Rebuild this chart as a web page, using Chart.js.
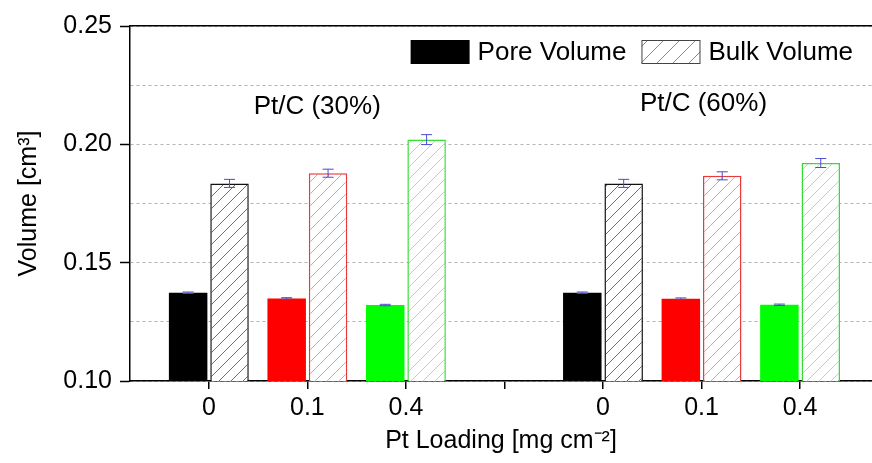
<!DOCTYPE html>
<html>
<head>
<meta charset="utf-8">
<script src="https://cdn.jsdelivr.net/npm/chart.js@4.4.0/dist/chart.umd.min.js"></script>
<style>
    html, body { margin: 0; padding: 0; background: #fff; }
    #wrap { width: 872px; height: 463px; }
</style>
</head>
<body>
<div id="wrap"><canvas id="volChart"></canvas></div>
<script>
// ── Data ─────────────────────────────────────────────────────
const loadings   = ['0', '0.1', '0.4', '', '0', '0.1', '0.4'];
const poreVolume = [0.1373, 0.1349, 0.1321, null, 0.1373, 0.1348, 0.1322];
const poreError  = [0.0003, 0.0003, 0.0003, null, 0.0003, 0.0003, 0.0003];
const bulkVolume = [0.1835, 0.1878, 0.2020, null, 0.1835, 0.1867, 0.1921];
const bulkError  = [0.0017, 0.0017, 0.0021, null, 0.0017, 0.0017, 0.0019];
const yTicks     = [0.10, 0.15, 0.20, 0.25];
const groupNames = ['Pt/C (30%)', 'Pt/C (60%)'];

// ── Styles ───────────────────────────────────────────────────
const FONT       = '"Liberation Sans", Arial, sans-serif';
const FILL       = ['#000000', '#ff0000', '#00ff00', '#000000', '#000000', '#ff0000', '#00ff00'];
const EDGE       = ['#111111', '#e83a3a', '#33dd33', '#111111', '#111111', '#e83a3a', '#33dd33'];
const HATCH      = ['#6e6e6e', '#f29a9a', '#a0e6a0', '#6e6e6e', '#6e6e6e', '#f29a9a', '#a0e6a0'];
const GROUP_POS  = [{ x: 2.1, y: 0.2160 }, { x: 6.02, y: 0.2173 }];
const ERR_COLOR  = '#4b4bcf';

Chart.defaults.font.family = FONT;
Chart.defaults.color = '#000';

const canvas = document.getElementById('volChart');
const ctx2d  = canvas.getContext('2d');

// ── Hatch pattern ────────────────────────────────────────────
function hatch(color, size) {
    const c = document.createElement('canvas');
    c.width = size; c.height = size;
    const g = c.getContext('2d');
    g.fillStyle = '#fff';
    g.fillRect(0, 0, size, size);
    g.strokeStyle = color;
    g.lineWidth = 1;
    g.beginPath();
    g.moveTo(0, size); g.lineTo(size, 0);
    g.moveTo(-1, 1); g.lineTo(1, -1);
    g.moveTo(size - 1, size + 1); g.lineTo(size + 1, size - 1);
    g.stroke();
    return ctx2d.createPattern(c, 'repeat');
}

const isMajor = v => yTicks.some(t => Math.abs(t - v) < 1e-6);

// ── Error bars, group labels, legend ─────────────────────────
const decor = {
    id: 'decor',
    afterDatasetsDraw(chart) {
        const { ctx, scales: { x, y } } = chart;
        ctx.save();
        chart.data.datasets.forEach((ds, di) => {
            const meta = chart.getDatasetMeta(di);
            meta.data.forEach((bar, i) => {
                const v = ds.data[i].y, e = ds.errors[i];
                if (v == null || e == null) return;
                const top = y.getPixelForValue(v + e);
                const bot = y.getPixelForValue(v - e);
                ctx.strokeStyle = ERR_COLOR;
                ctx.lineWidth = 1;
                ctx.beginPath();
                ctx.moveTo(bar.x, top); ctx.lineTo(bar.x, bot);
                ctx.moveTo(bar.x - 5.5, top); ctx.lineTo(bar.x + 5.5, top);
                ctx.moveTo(bar.x - 5.5, bot); ctx.lineTo(bar.x + 5.5, bot);
                ctx.stroke();
            });
        });

        ctx.fillStyle = '#000';
        ctx.font = '26px ' + FONT;
        ctx.textAlign = 'center';
        ctx.textBaseline = 'middle';
        groupNames.forEach((name, i) => {
            ctx.fillText(name, x.getPixelForValue(GROUP_POS[i].x), y.getPixelForValue(GROUP_POS[i].y));
        });

        // legend, top right inside the plot
        const area = chart.chartArea;
        const boxW = 59, boxH = 24, gap = 8, itemGap = 15;
        const by = area.top + 14;
        ctx.textAlign = 'left';
        const items = chart.data.datasets.map(ds => ({ label: ds.label, w: ctx.measureText(ds.label).width }));
        let xPos = area.right - 19;
        for (let i = items.length - 1; i >= 0; i--) {
            xPos -= items[i].w;
            items[i].tx = xPos;
            xPos -= gap + boxW;
            items[i].bx = xPos;
            xPos -= itemGap;
        }
        items.forEach((it, i) => {
            if (i === 0) {
                ctx.fillStyle = '#000';
                ctx.fillRect(it.bx, by, boxW, boxH);
            } else {
                ctx.fillStyle = hatch('#888888', 16);
                ctx.fillRect(it.bx, by, boxW, boxH);
                ctx.strokeStyle = '#444';
                ctx.lineWidth = 1;
                ctx.strokeRect(it.bx + 0.5, by + 0.5, boxW - 1, boxH - 1);
            }
            ctx.fillStyle = '#000';
            ctx.fillText(it.label, it.tx, by + boxH / 2 + 1);
        });
        ctx.restore();
    }
};

new Chart(canvas, {
    type: 'bar',
    data: {
        datasets: [
            {
                label: 'Pore Volume',
                data: loadings.map((_, i) => ({ x: i + 1, y: poreVolume[i] })),
                errors: poreError,
                backgroundColor: FILL,
                borderWidth: 0
            },
            {
                label: 'Bulk Volume',
                data: loadings.map((_, i) => ({ x: i + 1, y: bulkVolume[i] })),
                errors: bulkError,
                backgroundColor: HATCH.map(c => hatch(c, 12)),
                borderColor: EDGE,
                borderWidth: 1.5,
                borderSkipped: false
            }
        ]
    },
    options: {
        responsive: true,
        maintainAspectRatio: false,
        animation: false,
        categoryPercentage: 0.84,
        barPercentage: 0.93,
        layout: { padding: 0 },
        plugins: {
            legend: { display: false },
            tooltip: { enabled: false }
        },
        scales: {
            x: {
                type: 'linear',
                min: 0.2,
                max: 7.73,
                offset: false,
                afterBuildTicks: s => { s.ticks = loadings.map((_, i) => ({ value: i + 1 })); },
                afterFit: s => { s.height = 82; },
                grid: { offset: false, drawOnChartArea: false, tickLength: 8, color: '#000', lineWidth: 1.5 },
                border: { color: '#000', width: 1.5 },
                ticks: {
                    callback: v => loadings[v - 1],
                    autoSkip: false,
                    maxRotation: 0,
                    padding: 4,
                    font: { size: 25 }
                },
                title: {
                    display: true,
                    text: 'Pt Loading [mg cm⁻²]',
                    font: { size: 25 },
                    padding: { top: 0, bottom: 7 }
                }
            },
            x2: {
                type: 'linear',
                position: 'top',
                min: 0,
                max: 1,
                grid: { display: false },
                ticks: { display: false },
                border: { display: true, color: '#000', width: 1.5 },
                afterFit: s => { s.height = 26; }
            },
            y: {
                min: 0.10,
                max: 0.25,
                afterFit: s => { s.width = 130; },
                ticks: {
                    stepSize: 0.025,
                    padding: 8,
                    font: { size: 25 },
                    callback: v => (isMajor(v) ? v.toFixed(2) : '')
                },
                grid: {
                    color: '#b4b4b4',
                    lineWidth: 1,
                    tickLength: 10,
                    tickWidth: 1.5,
                    tickBorderDash: [],
                    tickColor: c => (c.tick && isMajor(c.tick.value) ? '#000' : 'rgba(0,0,0,0)')
                },
                border: { color: '#000', width: 1.5, dash: [3, 3] },
                title: {
                    display: true,
                    text: 'Volume [cm³]',
                    font: { size: 25 },
                    padding: { top: 14, bottom: 0 }
                }
            }
        }
    },
    plugins: [decor]
});
</script>
</body>
</html>
